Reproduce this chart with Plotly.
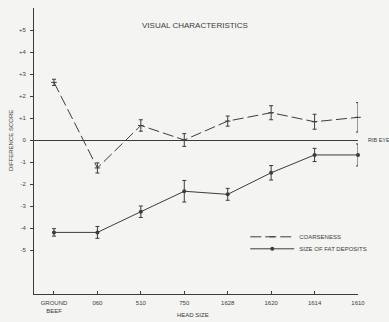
import plotly.graph_objects as go

head_sizes = ["GROUND<br>BEEF", "060", "510", "750", "1628", "1620", "1614", "1610"]
coarseness = [2.62, -1.27, 0.66, 0.0, 0.86, 1.24, 0.83, 1.03]
coarseness_err = [0.14, 0.23, 0.26, 0.29, 0.23, 0.32, 0.34, 0.67]
fat_deposits = [-4.2, -4.2, -3.26, -2.33, -2.47, -1.49, -0.68, -0.68]
fat_err = [0.17, 0.27, 0.26, 0.49, 0.27, 0.33, 0.3, 0.5]
y_ticks = [5, 4, 3, 2, 1, 0, -1, -2, -3, -4, -5]
y_ticktext = ["+5", "+4", "+3", "+2", "+1", "0", "-1", "-2", "-3", "-4", "-5"]

ink = "#3c3c3c"
bg = "#f4f4f2"
xi = list(range(len(head_sizes)))

fig = go.Figure()
fig.add_trace(go.Scatter(
    x=xi, y=coarseness, name="COARSENESS", mode="lines+markers", legend="legend",
    cliponaxis=False,
    line=dict(color=ink, width=1, dash="11px,4px"),
    marker=dict(symbol="line-ew-open", size=4, color=ink, line=dict(width=1, color=ink)),
    error_y=dict(type="data", array=coarseness_err, color=ink, thickness=1, width=2),
))
fig.add_trace(go.Scatter(
    x=xi, y=fat_deposits, name="SIZE OF FAT DEPOSITS", mode="lines+markers", legend="legend2",
    cliponaxis=False,
    line=dict(color=ink, width=1),
    marker=dict(symbol="circle", size=4, color=ink),
    error_y=dict(type="data", array=fat_err, color=ink, thickness=1, width=2),
))

font = "Liberation Sans, Arial, sans-serif"
legend_common = dict(xanchor="left", yanchor="middle", bgcolor="rgba(0,0,0,0)",
                     font=dict(size=6, color=ink), itemwidth=44)
fig.update_layout(
    width=389, height=322,
    margin=dict(l=34, r=31, t=8, b=28, autoexpand=False),
    paper_bgcolor=bg, plot_bgcolor=bg,
    font=dict(family=font, color=ink, size=6),
    showlegend=True,
    legend=dict(x=0.652, y=0.200, **legend_common),
    legend2=dict(x=0.652, y=0.158, **legend_common),
    xaxis=dict(range=[-0.46, 7], tickvals=xi, ticktext=head_sizes, automargin=False,
               showgrid=False, zeroline=False, showline=True, linecolor=ink, linewidth=1,
               ticks="inside", ticklen=3, tickcolor=ink, tickwidth=1,
               tickfont=dict(size=6, color=ink), ticklabelstandoff=3),
    yaxis=dict(range=[-7, 6], tickvals=y_ticks, ticktext=y_ticktext, automargin=False,
               showgrid=False, zeroline=True, zerolinecolor=ink, zerolinewidth=1,
               showline=True, linecolor=ink, linewidth=1,
               ticks="outside", ticklen=3, tickcolor=ink, tickwidth=1,
               tickfont=dict(size=6, color=ink), ticklabelstandoff=3),
    annotations=[
        dict(text="VISUAL CHARACTERISTICS", xref="paper", yref="paper", x=0.496, y=0.938,
             yanchor="middle", showarrow=False, font=dict(size=8, color=ink)),
        dict(text="HEAD SIZE", xref="paper", yref="paper", x=0.49, y=-0.075,
             yanchor="middle", showarrow=False, font=dict(size=6, color=ink)),
        dict(text="DIFFERENCE SCORE", xref="paper", yref="paper", x=-0.069, y=0.537,
             xanchor="center", yanchor="middle",
             textangle=-90, showarrow=False, font=dict(size=6, color=ink)),
        dict(text="RIB EYE", xref="paper", yref="y", x=1.025, y=0, xanchor="left",
             showarrow=False, font=dict(size=5.5, color=ink)),
    ],
)
fig.write_html(
    "out.html",
    config={"displayModeBar": False},
    post_script="document.body.style.margin='0';document.body.style.background='%s';" % bg,
)
